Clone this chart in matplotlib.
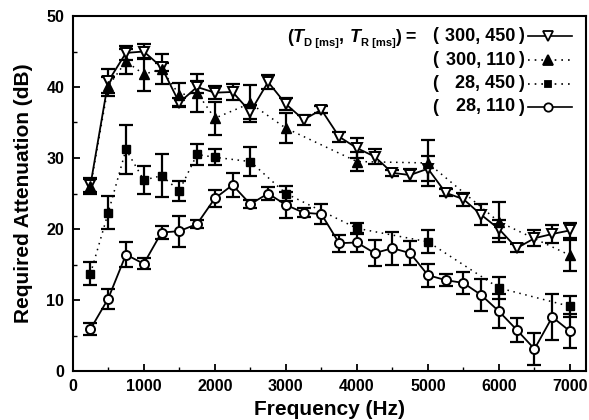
import matplotlib
matplotlib.use("Agg")
import matplotlib.pyplot as plt
from matplotlib.lines import Line2D
from matplotlib.ticker import MultipleLocator

# ---------------- data ----------------
freq_all = [250, 500, 750, 1000, 1250, 1500, 1750, 2000, 2250, 2500, 2750, 3000, 3250, 3500,
            3750, 4000, 4250, 4500, 4750, 5000, 5250, 5500, 5750, 6000, 6250, 6500, 6750, 7000]

# (T_D, T_R) = (300, 450): open down-triangles, solid line
att_300_450 = [26.2, 40.8, 44.8, 45.0, 42.8, 37.8, 40.0, 39.2, 39.3, 36.5, 40.7, 37.6, 35.4, 36.8,
               33.0, 31.4, 30.2, 27.9, 27.6, 28.5, 25.1, 24.2, 22.0, 20.0, 17.3, 18.7, 19.3, 19.8]
err_300_450 = [1.0, 1.7, 1.0, 1.1, 0.6, 0.6, 0.8, 0.9, 1.1, 1.0, 1.0, 0.8, 0.7, 0.5,
               0.7, 1.4, 1.0, 0.4, 0.9, 1.8, 0.5, 0.9, 1.5, 1.2, 0.6, 1.1, 1.3, 1.1]

# (300, 110): filled up-triangles, dotted line
freq_300_110 = [250, 500, 750, 1000, 1250, 1500, 1750, 2000, 2500, 3000, 4000, 5000, 6000, 7000]
att_300_110 = [26.0, 40.1, 43.6, 41.8, 42.5, 38.9, 39.2, 35.6, 37.7, 34.2, 29.5, 29.3, 21.0, 16.3]
err_300_110 = [1.0, 1.3, 1.8, 2.3, 2.1, 1.6, 2.7, 2.3, 2.6, 2.1, 1.4, 3.3, 2.8, 2.2]

# (28, 450): filled squares, dotted line
freq_28_450 = [250, 500, 750, 1000, 1250, 1500, 1750, 2000, 2500, 3000, 4000, 5000, 6000, 7000]
att_28_450 = [13.7, 22.3, 31.2, 26.9, 27.5, 25.4, 30.5, 30.1, 29.5, 25.0, 20.1, 18.2, 11.7, 9.1]
err_28_450 = [1.6, 2.3, 3.5, 2.0, 3.0, 1.4, 1.5, 1.1, 2.0, 1.1, 0.8, 1.6, 1.6, 1.5]

# (28, 110): open circles, solid line
att_28_110 = [5.9, 10.2, 16.4, 15.1, 19.5, 19.7, 20.7, 24.3, 26.2, 23.5, 25.0, 23.4, 22.3, 22.1,
              18.0, 18.1, 16.6, 17.3, 16.6, 13.5, 12.8, 12.4, 10.7, 8.4, 5.8, 3.1, 7.6, 5.6]
err_28_110 = [0.8, 1.4, 1.8, 0.8, 0.9, 2.2, 0.5, 1.2, 1.7, 0.6, 0.9, 1.8, 0.6, 1.4,
              1.2, 1.3, 1.8, 2.3, 1.7, 1.6, 0.8, 1.5, 2.2, 2.4, 1.7, 2.3, 3.2, 2.4]

legend_labels = ["(300, 450 )", "(300, 110 )", "(  28, 450 )", "(  28, 110 )"]
x_ticks = [0, 1000, 2000, 3000, 4000, 5000, 6000, 7000]
y_ticks = [0, 10, 20, 30, 40, 50]

# ---------------- figure ----------------
W, H = 589, 420
plt.rcParams['font.family'] = ['Liberation Sans', 'DejaVu Sans']
plt.rcParams['font.weight'] = 'bold'
fig = plt.figure(figsize=(W / 100, H / 100), dpi=100)


def fx(x):
    return x / W


def fy(y):
    return 1 - y / H


ax = fig.add_axes([fx(72.7), fy(371), (586 - 72.7) / W, (371 - 16) / H])
ax.set_xlim(0, 7225)
ax.set_ylim(0, 50)

eb_kw = dict(fmt='none', ecolor='black', elinewidth=1.6, capsize=5, capthick=1.6, zorder=2)

ax.errorbar(freq_all, att_28_110, yerr=err_28_110, **eb_kw)
ax.errorbar(freq_28_450, att_28_450, yerr=err_28_450, **eb_kw)
ax.errorbar(freq_300_110, att_300_110, yerr=err_300_110, **eb_kw)
ax.errorbar(freq_all, att_300_450, yerr=err_300_450, **eb_kw)

dot = (0, (1, 3))
ax.plot(freq_all, att_28_110, '-', color='black', lw=1.3, zorder=3)
ax.plot(freq_28_450, att_28_450, linestyle=dot, color='black', lw=1.1, zorder=3)
ax.plot(freq_300_110, att_300_110, linestyle=dot, color='black', lw=1.1, zorder=3)
ax.plot(freq_all, att_300_450, '-', color='black', lw=1.3, zorder=3)

ax.plot(freq_all, att_28_110, 'o', ms=6.5, mfc='white', mec='black', mew=1.4, zorder=5)
ax.plot(freq_28_450, att_28_450, 's', ms=5.5, mfc='black', mec='black', zorder=5)
ax.plot(freq_all, att_300_450, 'v', ms=7.5, mfc='white', mec='black', mew=1.4, zorder=6)
ax.plot(freq_300_110, att_300_110, '^', ms=7, mfc='black', mec='black', zorder=7)

ax.set_xticks(x_ticks)
ax.set_xticklabels([str(t) for t in x_ticks])
ax.set_yticks(y_ticks)
ax.set_yticklabels([str(t) for t in y_ticks])
ax.xaxis.set_minor_locator(MultipleLocator(500))
ax.yaxis.set_minor_locator(MultipleLocator(5))
ax.tick_params(which='major', direction='in', length=5, width=1.3, labelsize=11.5, pad=6)
ax.tick_params(which='minor', direction='in', length=3, width=1.0)
for lab in ax.get_xticklabels() + ax.get_yticklabels():
    lab.set_fontweight('bold')
for s in ax.spines.values():
    s.set_linewidth(1.5)

ax.set_xlabel("Frequency (Hz)", fontsize=15, fontweight='bold', labelpad=4)
ax.set_ylabel("Required Attenuation (dB)", fontsize=15, fontweight='bold', labelpad=10)

# ---------------- legend (manual) ----------------
fig.canvas.draw()
renderer = fig.canvas.get_renderer()

base_y = 41.5  # baseline of header row (px from top)
pieces = [("(", 13, 'normal', 0), ("T", 13, 'italic', 0), ("D [ms]", 8, 'normal', 5),
          (", ", 13, 'normal', 0), ("T", 13, 'italic', 0), ("R [ms]", 8, 'normal', 5),
          (") =", 13, 'normal', 0)]
xcur = 287
for txt, size, style, drop in pieces:
    t = fig.text(fx(xcur), fy(base_y + drop), txt, fontsize=size, fontweight='bold',
                 fontstyle=style, ha='left', va='baseline')
    bb = t.get_window_extent(renderer)
    xcur += bb.width + (0.5 if style == 'italic' else 0)

rows_y = [36, 60, 83.5, 107]
for lab, ry in zip(legend_labels, rows_y):
    inner = lab.strip("() ")
    fig.text(fx(432), fy(ry), "(", fontsize=13, fontweight='bold', ha='left', va='center')
    fig.text(fx(515), fy(ry), inner, fontsize=13, fontweight='bold', ha='right', va='center')
    fig.text(fx(518), fy(ry), ")", fontsize=13, fontweight='bold', ha='left', va='center')

styles = [('-', 'v', 'white', 7), (dot, '^', 'black', 6.5), (dot, 's', 'black', 5), ('-', 'o', 'white', 6)]
for (ls, mk, mfc, ms), ry in zip(styles, rows_y):
    fig.add_artist(Line2D([fx(528), fx(572)], [fy(ry), fy(ry)], transform=fig.transFigure,
                          linestyle=ls, color='black', lw=1.2))
    fig.add_artist(Line2D([fx(548)], [fy(ry)], transform=fig.transFigure, marker=mk,
                          ms=ms, mfc=mfc, mec='black', mew=1.3, linestyle='none'))

fig.savefig("out.png", dpi=100)
